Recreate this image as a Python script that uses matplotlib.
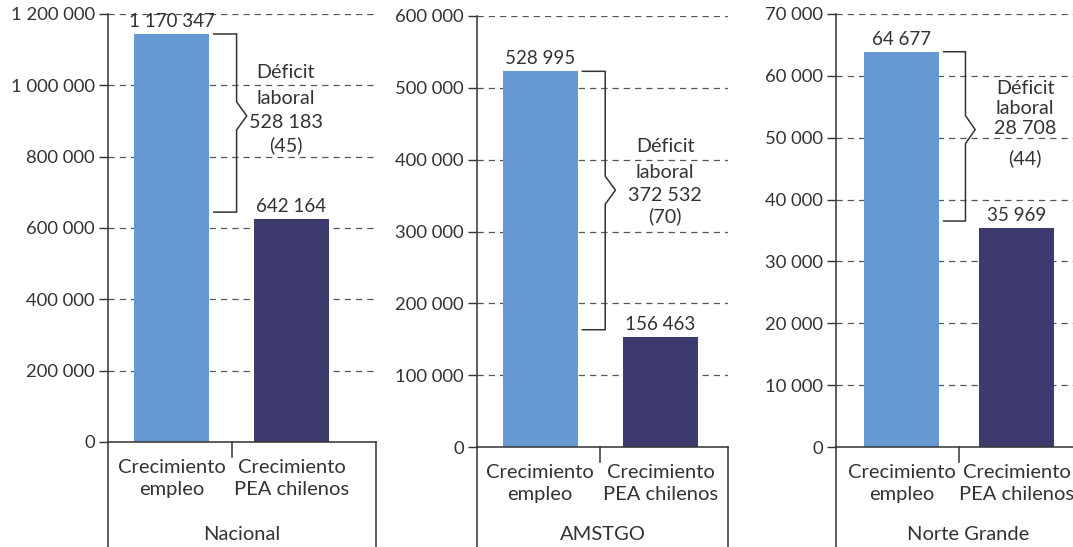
import matplotlib
matplotlib.use("Agg")
import matplotlib.pyplot as plt

plt.rcParams['font.family'] = ['Lato', 'DejaVu Sans']

# data (bar heights, labels as printed)
regions = ["Nacional", "AMSTGO", "Norte Grande"]
categories = ["Crecimiento\nempleo", "Crecimiento\nPEA chilenos"]
empleo = [1144000, 523000, 63900]
pea_chilenos = [625000, 153500, 35400]
empleo_labels = ["1 170 347", "528 995", "64 677"]
pea_labels = ["642 164", "156 463", "35 969"]
deficit = ["528 183", "372 532", "28 708"]
deficit_pct = ["(45)", "(70)", "(44)"]
y_max = [1200000, 600000, 70000]
y_step = [200000, 100000, 10000]

W, H = 1073, 547
TXT = "#333333"
LIGHT = "#6699d1"
DARK = "#3d3a6e"

# panel layout in pixels: left, right, top, bottom, first bar centre, bar spacing
panels = [
    (108, 376, 14, 442, 171.5, 120.0),
    (477, 728, 16, 447, 540.0, 120.5),
    (836, 1100, 14, 447, 901.5, 115.0),
]
# centre x and line centres (px) of the "Déficit laboral" notes
note_x = [286, 665, 1025]
note_y = [[73, 98, 122, 145], [146, 172, 195, 216], [88, 108, 129, 158]]


def fmt(v, pos=None):
    return f"{int(v):,}".replace(",", " ")


fig = plt.figure(figsize=(W / 100, H / 100), dpi=100)

for i in range(3):
    left, right, top, bottom, c0, s = panels[i]
    axh = bottom - top
    ax = fig.add_axes([left / W, 1 - bottom / H, (right - left) / W, axh / H])
    bw = 75 / s

    ax.bar([0, 1], [empleo[i], pea_chilenos[i]], width=bw,
           color=[LIGHT, DARK], zorder=2)
    ax.set_xlim((left - c0) / s, (right - c0) / s)
    ax.set_ylim(0, y_max[i])

    ticks = list(range(0, y_max[i] + 1, y_step[i]))
    ax.set_yticks(ticks)
    ax.set_yticklabels([fmt(t) for t in ticks])
    ax.tick_params(axis='y', direction='out', length=6.5, width=1,
                   colors=TXT, labelsize=13.3, pad=3)
    ax.set_xticks([0, 1])
    ax.set_xticklabels(categories, fontsize=14.5, color=TXT, linespacing=1.4)
    ax.tick_params(axis='x', length=0, pad=12)

    ax.yaxis.grid(True, linestyle=(0, (5, 4)), color="#555555", lw=0.9)
    ax.set_axisbelow(True)
    for sp in ['top', 'right']:
        ax.spines[sp].set_visible(False)
    for sp in ['left', 'bottom']:
        ax.spines[sp].set_color(TXT)
        ax.spines[sp].set_linewidth(1.1)

    # frame lines below the axis
    down = -(H - bottom) / axh
    ax.plot([0, 0], [0, down], transform=ax.transAxes, color=TXT, lw=1.1, clip_on=False)
    ax.plot([1, 1], [0, down], transform=ax.transAxes, color=TXT, lw=1.1, clip_on=False)
    ax.plot([0.5, 0.5], [0, -15 / axh], transform=ax.get_xaxis_transform(),
            color=TXT, lw=1.1, clip_on=False)

    ax.text(0.5, -(535 - bottom) / axh, regions[i], transform=ax.transAxes,
            ha='center', va='center', fontsize=14.5, color=TXT)

    # value labels
    ax.annotate(empleo_labels[i], (0, empleo[i]), xytext=(0, 3),
                textcoords='offset points', ha='center', va='bottom',
                fontsize=13.5, color=TXT)
    ax.annotate(pea_labels[i], (1, pea_chilenos[i]), xytext=(0, 3),
                textcoords='offset points', ha='center', va='bottom',
                fontsize=13.5, color=TXT)

    # brace between the two bars
    px = y_max[i] / axh
    y_top = empleo[i]
    y_bot = pea_chilenos[i] + 7 * px
    y_tip = y_top - 0.46 * (y_top - y_bot)
    h = 14 * px
    x0 = bw / 2 + 0.04
    xv = x0 + 0.19
    xt = xv + 0.085
    ax.plot([x0, xv, xv, xt, xv, xv, x0],
            [y_top, y_top, y_tip + h, y_tip, y_tip - h, y_bot, y_bot],
            color=TXT, lw=1.1, clip_on=False, zorder=3)

    lines = ["Déficit", "laboral", deficit[i], deficit_pct[i]]
    for txt, yy in zip(lines, note_y[i]):
        fig.text(note_x[i] / W, 1 - yy / H, txt, ha='center', va='center',
                 fontsize=14.2, color=TXT)

fig.savefig("out.png", dpi=100)
